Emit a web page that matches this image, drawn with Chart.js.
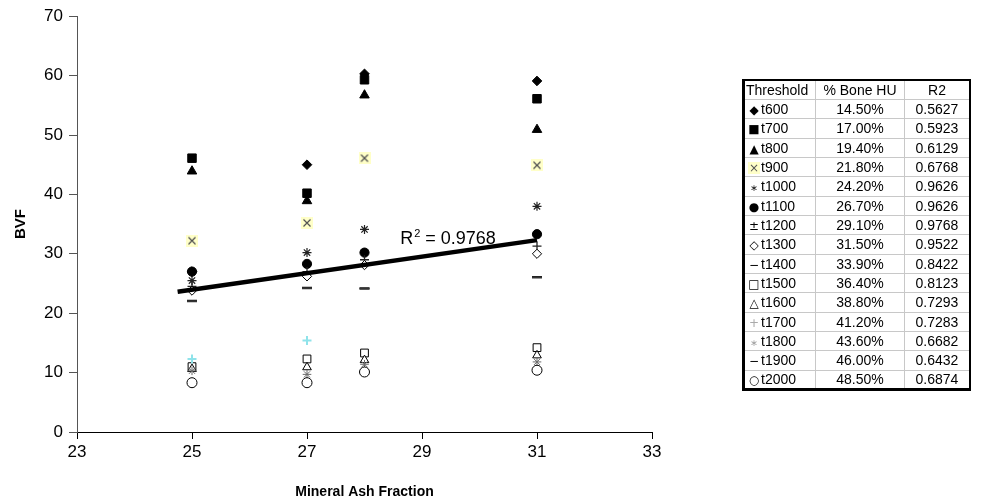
<!DOCTYPE html>
<html>
<head>
<meta charset="utf-8">
<script src="https://cdn.jsdelivr.net/npm/chart.js@4.4.1/dist/chart.umd.min.js"></script>
<style>
  html, body { margin: 0; padding: 0; background: #fff; }
  #wrap { position: relative; width: 981px; height: 502px; overflow: hidden; }
  #c { position: absolute; left: 0; top: 0; }
  #tbl { position: absolute; left: 742px; top: 79px; border-collapse: collapse; table-layout: fixed;
         font-family: "Liberation Sans", Arial, sans-serif; font-size: 14px; color: #000;
         border-top: 2px solid #000; border-right: 2px solid #000; border-left: 3px solid #000; border-bottom: 3px solid #000; }
  #tbl tr { height: 19.35px; }
  #tbl td { border: 1px solid #c8c8c8; padding: 0; line-height: 16px; vertical-align: middle; overflow: hidden; }
  #tbl td.c1 { width: 67px; text-align: left; padding-left: 3px; white-space: nowrap; }
  #tbl td.c2 { width: 88px; text-align: center; }
  #tbl td.c3 { width: 64px; text-align: center; }
  .mk { display: inline-block; width: 12px; text-align: center; font-family: "DejaVu Sans", sans-serif; font-size: 12px; line-height: 12px; margin-right: 1px; vertical-align: 0px; }
</style>
</head>
<body>
<div id="wrap">
<canvas id="c" width="981" height="502"></canvas>
<table id="tbl"></table>
</div>
<script>
// ---- data ----
const xValues = [25, 27, 28, 31];
const t600  = [27.0, 45.0, 60.3, 59.1];
const t700  = [46.1, 40.2, 59.3, 56.1];
const t800  = [43.9, 38.9, 56.7, 50.9];
const t900  = [32.2, 35.2, 46.1, 44.9];
const t1000 = [25.5, 30.2, 34.1, 38.0];
const t1100 = [27.0, 28.3, 30.2, 33.3];
const t1200 = [24.5, 27.0, 29.0, 31.3];
const t1300 = [23.8, 26.2, 28.1, 30.0];
const t1400 = [22.1, 24.3, 24.2, 26.1];
const t1500 = [11.0, 12.3, 13.3, 14.2];
const t1600 = [10.6, 10.9, 12.1, 12.9];
const t1700 = [12.3, 15.4, null, null];
const t1800 = [10.3, 9.7, 11.4, 11.8];
const t1900 = [22.0, 24.2, 24.1, 26.0];
const t2000 = [8.3, 8.3, 10.1, 10.4];

const trendX = [24.75, 31];
const trendY = [23.6, 32.3];
const r2Label = "0.9768";
const r2LabelX = 28.62;
const r2LabelY = 31.6;

const thresholds = ["t600","t700","t800","t900","t1000","t1100","t1200","t1300","t1400","t1500","t1600","t1700","t1800","t1900","t2000"];
const boneHU = ["14.50%","17.00%","19.40%","21.80%","24.20%","26.70%","29.10%","31.50%","33.90%","36.40%","38.80%","41.20%","43.60%","46.00%","48.50%"];
const r2Values = ["0.5627","0.5923","0.6129","0.6768","0.9626","0.9626","0.9768","0.9522","0.8422","0.8123","0.7293","0.7283","0.6682","0.6432","0.6874"];
const seriesValues = [t600,t700,t800,t900,t1000,t1100,t1200,t1300,t1400,t1500,t1600,t1700,t1800,t1900,t2000];

// ---- marker styles ----
function makeXMarker() {
  const c = document.createElement('canvas');
  c.width = 12; c.height = 12;
  const g = c.getContext('2d');
  g.fillStyle = '#ffffc8';
  g.fillRect(0, 0, 12, 12);
  g.strokeStyle = '#505050';
  g.lineWidth = 1.2;
  g.beginPath();
  g.moveTo(2.5, 2.5); g.lineTo(9.5, 9.5);
  g.moveTo(9.5, 2.5); g.lineTo(2.5, 9.5);
  g.stroke();
  return c;
}
const xMarker = makeXMarker();

const styles = [
  {ps:'rectRot', r:4.8, bg:'#000', bc:'#000', bw:1},
  {ps:'rect', r:6, bg:'#000', bc:'#000', bw:1},
  {ps:'triangle', r:5.5, bg:'#000', bc:'#000', bw:1},
  {ps:xMarker, r:6, bg:'#000', bc:'#000', bw:1},
  {ps:'star', r:4.5, bg:'#000', bc:'#222', bw:1.2},
  {ps:'circle', r:4.6, bg:'#000', bc:'#000', bw:1},
  {ps:'cross', r:4.5, bg:'#000', bc:'#222', bw:1.3},
  {ps:'rectRot', r:4.6, bg:'#fff', bc:'#000', bw:1},
  {ps:'line', r:5, bg:'#000', bc:'#111', bw:2},
  {ps:'rect', r:5.5, bg:'#fff', bc:'#000', bw:1},
  {ps:'triangle', r:5, bg:'#fff', bc:'#000', bw:1},
  {ps:'cross', r:4.5, bg:'#9fe8ee', bc:'#8fe3ea', bw:2},
  {ps:'star', r:4.3, bg:'#777', bc:'#6a6a6a', bw:1},
  {ps:'line', r:5, bg:'#000', bc:'#333', bw:2},
  {ps:'circle', r:5, bg:'#fff', bc:'#000', bw:1}
];

const datasets = seriesValues.map((vals, i) => ({
  label: thresholds[i],
  data: xValues.map((x, j) => ({x: x, y: vals[j]})).filter(p => p.y !== null),
  pointStyle: styles[i].ps,
  pointRadius: styles[i].r,
  backgroundColor: styles[i].bg,
  borderColor: styles[i].bc,
  pointBorderWidth: styles[i].bw,
  showLine: false,
  order: 20 - i
}));
datasets.push({
  type: 'line',
  label: 'trend',
  data: trendX.map((x, j) => ({x: x, y: trendY[j]})),
  borderColor: '#000',
  borderWidth: 4.5,
  pointRadius: 0,
  fill: false,
  order: -10
});

const r2Plugin = {
  id: 'r2',
  afterDatasetsDraw(chart) {
    const {ctx, scales} = chart;
    const px = scales.x.getPixelForValue(r2LabelX);
    const py = scales.y.getPixelForValue(r2LabelY);
    ctx.save();
    ctx.fillStyle = '#000';
    ctx.textBaseline = 'alphabetic';
    ctx.font = '18px "Liberation Sans", Arial, sans-serif';
    ctx.fillText('R', px, py);
    let w = ctx.measureText('R').width;
    ctx.font = '11px "Liberation Sans", Arial, sans-serif';
    ctx.fillText('2', px + w + 1, py - 7);
    w += ctx.measureText('2').width + 1;
    ctx.font = '18px "Liberation Sans", Arial, sans-serif';
    ctx.fillText(' = ' + r2Label, px + w, py);
    ctx.restore();
  }
};

const tickFont = {family: '"Liberation Sans", Arial, sans-serif', size: 17};

new Chart(document.getElementById('c'), {
  type: 'scatter',
  data: {datasets},
  options: {
    responsive: false,
    animation: false,
    devicePixelRatio: 1,
    layout: {padding: {left: 0, top: 14, right: 329, bottom: 0}},
    plugins: {legend: {display: false}, tooltip: {enabled: false}},
    scales: {
      x: {
        type: 'linear', min: 23, max: 33,
        ticks: {stepSize: 2, color: '#000', font: tickFont, padding: 3, maxRotation: 0},
        grid: {display: true, drawOnChartArea: false, tickLength: 7, color: '#000'},
        border: {display: true, color: '#000', width: 1},
        title: {display: true, text: 'Mineral Ash Fraction', color: '#000',
                font: {family: '"Liberation Sans", Arial, sans-serif', size: 14, weight: 'bold'},
                padding: {top: 0, bottom: 1}},
        afterFit(s) { s.height = 70; }
      },
      y: {
        type: 'linear', min: 0, max: 70,
        ticks: {stepSize: 10, color: '#000', font: tickFont, padding: 6},
        grid: {display: true, drawOnChartArea: false, tickLength: 8, color: '#555'},
        border: {display: true, color: '#555', width: 1},
        title: {display: true, text: 'BVF', color: '#000',
                font: {family: '"Liberation Sans", Arial, sans-serif', size: 15, weight: 'bold'},
                padding: {top: 12, bottom: 0}},
        afterFit(s) { s.width = 77; }
      }
    }
  },
  plugins: [r2Plugin]
});

// ---- legend table ----
const glyphs = ['◆','■','▲','×','⁎','●','±','◇','−','□','△','+','⁎','−','○'];
const glyphColors = ['#000','#000','#000','#555','#000','#000','#000','#000','#000','#000','#000','#aaa','#999','#000','#000'];
const tbl = document.getElementById('tbl');
let html = '<tr><td class="c1" style="padding-left:1px">Threshold</td><td class="c2">% Bone HU</td><td class="c3">R2</td></tr>';
thresholds.forEach((t, i) => {
  const bg = i === 3 ? 'background:#ffffc8;' : '';
  html += '<tr><td class="c1"><span class="mk" style="color:' + glyphColors[i] + ';' + bg + '">' + glyphs[i] + '</span>' + t +
          '</td><td class="c2">' + boneHU[i] + '</td><td class="c3">' + r2Values[i] + '</td></tr>';
});
tbl.innerHTML = html;
</script>
</body>
</html>
